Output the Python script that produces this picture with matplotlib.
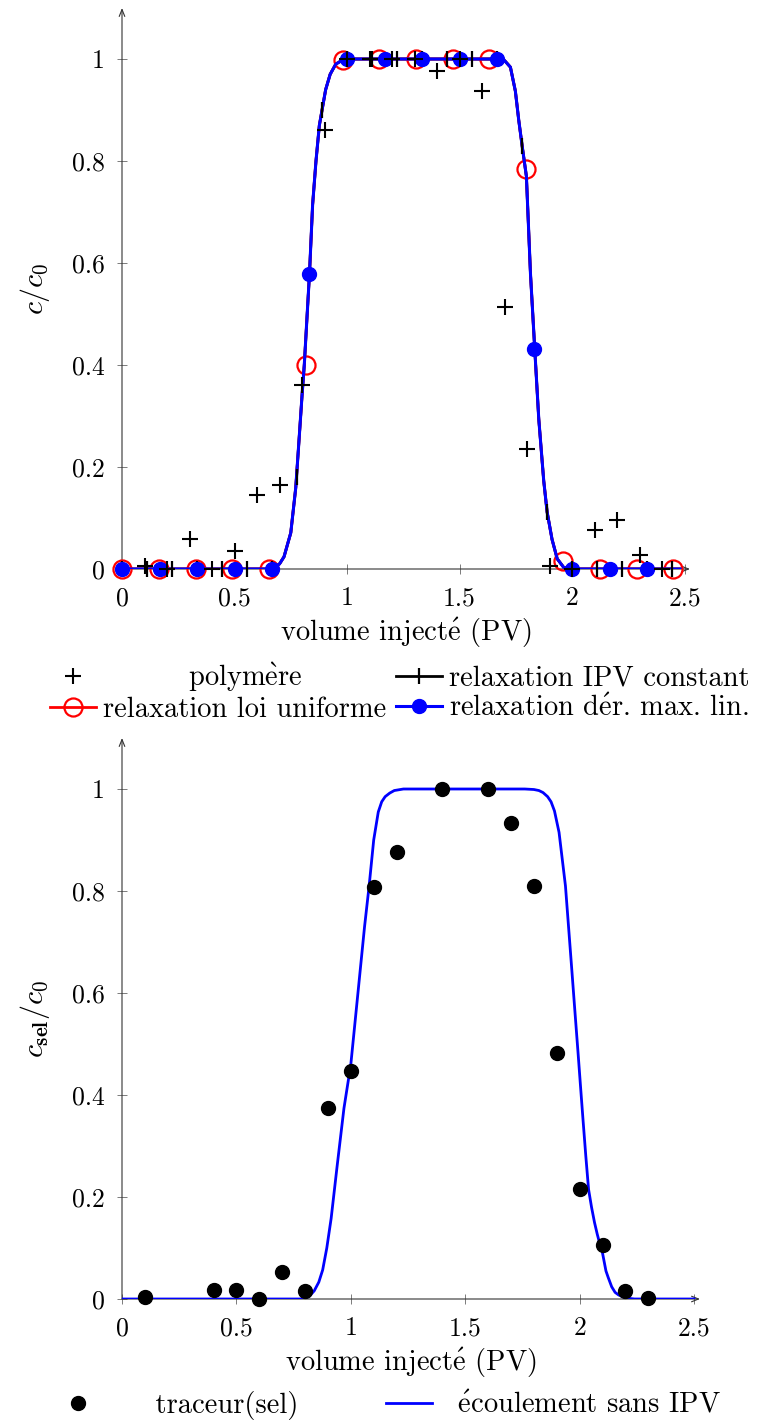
import matplotlib
matplotlib.use("Agg")
import matplotlib.pyplot as plt
from matplotlib.lines import Line2D

plt.rcParams['font.family'] = ['cmr10', 'DejaVu Serif']
plt.rcParams['mathtext.fontset'] = 'cm'
plt.rcParams['axes.formatter.use_mathtext'] = True

# ---------------- top panel data ----------------
poly_x = [0.1, 0.2, 0.3, 0.4, 0.5, 0.6, 0.7, 0.8, 0.9, 1.0, 1.1, 1.2, 1.3, 1.4, 1.5, 1.6,
          1.7, 1.8, 1.9, 2.0, 2.1, 2.2, 2.3, 2.4]
poly_y = [0.005, 0.0, 0.058, 0.0, 0.035, 0.145, 0.165, 0.36, 0.86, 1.0, 1.0, 1.0, 1.0, 0.977,
          1.0, 0.937, 0.514, 0.235, 0.005, 0.0, 0.076, 0.096, 0.027, 0.0]

model_x = [0, 0.667, 0.70, 0.72, 0.75, 0.772, 0.787, 0.80, 0.81, 0.833, 0.847, 0.862, 0.877,
           0.889, 0.905, 0.925, 0.95, 0.98, 1.0, 1.667, 1.70, 1.726, 1.748, 1.763, 1.778,
           1.797, 1.815, 1.834, 1.852, 1.874, 1.889, 1.911, 1.934, 1.963, 2.0, 2.48]
model_y = [0, 0, 0.01, 0.024, 0.071, 0.159, 0.255, 0.34, 0.40, 0.578, 0.714, 0.80, 0.87,
           0.90, 0.94, 0.97, 0.99, 0.998, 1.0, 1.0, 0.997, 0.984, 0.937, 0.88, 0.83,
           0.77, 0.58, 0.432, 0.294, 0.173, 0.112, 0.058, 0.02, 0.003, 0.0, 0.0]

ipv_x = [0, 0.111, 0.222, 0.333, 0.444, 0.556, 0.667, 0.778, 0.889, 1.0, 1.111, 1.222,
         1.333, 1.444, 1.556, 1.667, 1.778, 1.889, 2.0, 2.111, 2.222, 2.333, 2.444]
ipv_y = [0, 0, 0, 0, 0, 0, 0, 0.18, 0.90, 1, 1, 1, 1, 1, 1, 1, 0.83, 0.112, 0, 0, 0, 0, 0]

unif_x = [0, 0.163, 0.327, 0.49, 0.653, 0.817, 0.98, 1.143, 1.307, 1.47, 1.633, 1.797,
          1.96, 2.123, 2.287, 2.45]
unif_y = [0, 0, 0, 0, 0, 0.40, 0.998, 1, 1, 1, 1, 0.785, 0.015, 0, 0, 0]

lin_x = [0, 0.167, 0.333, 0.5, 0.667, 0.833, 1.0, 1.167, 1.333, 1.5, 1.667, 1.833, 2.0,
         2.167, 2.333]
lin_y = [0, 0, 0, 0, 0, 0.578, 1, 1, 1, 1, 1, 0.432, 0, 0, 0]

# ---------------- bottom panel data ----------------
sel_x = [0.1, 0.4, 0.5, 0.6, 0.7, 0.8, 0.9, 1.0, 1.1, 1.2, 1.4, 1.6, 1.7, 1.8, 1.9, 2.0,
         2.1, 2.2, 2.3]
sel_y = [0.003, 0.017, 0.017, 0.0, 0.053, 0.016, 0.375, 0.447, 0.808, 0.877, 1.0, 1.0,
         0.933, 0.81, 0.482, 0.215, 0.106, 0.015, 0.002]

flow_x = [0, 0.78, 0.80, 0.82, 0.84, 0.86, 0.877, 0.895, 0.914, 0.94, 0.97, 1.0, 1.02, 1.04,
          1.06, 1.08, 1.10, 1.12, 1.135, 1.15, 1.17, 1.19, 1.23, 1.76, 1.80, 1.822, 1.84,
          1.86, 1.875, 1.89, 1.91, 1.938, 1.965, 1.98, 1.993, 2.005, 2.015, 2.027, 2.039,
          2.052, 2.065, 2.077, 2.09, 2.10, 2.115, 2.125, 2.14, 2.155, 2.17, 2.2, 2.24, 2.5]
flow_y = [0, 0, 0.001, 0.006, 0.016, 0.033, 0.057, 0.10, 0.158, 0.26, 0.374, 0.46, 0.55,
          0.64, 0.73, 0.81, 0.90, 0.955, 0.975, 0.985, 0.992, 0.997, 1.0, 1.0, 0.999,
          0.997, 0.993, 0.985, 0.975, 0.957, 0.915, 0.81, 0.65, 0.56, 0.483, 0.41, 0.35,
          0.28, 0.215, 0.18, 0.15, 0.127, 0.105, 0.09, 0.055, 0.042, 0.024, 0.013, 0.008,
          0.002, 0.0, 0.0]

xticks = [0, 0.5, 1, 1.5, 2, 2.5]
xticklabels = ['0', '0.5', '1', '1.5', '2', '2.5']
yticks = [0, 0.2, 0.4, 0.6, 0.8, 1]
yticklabels = ['0', '0.2', '0.4', '0.6', '0.8', '1']

TFS = 18.5   # tick labels
LFS = 20.5   # axis labels / legend
W, H = 757, 1426
fig = plt.figure(figsize=(W / 100, H / 100), dpi=100)

ax1 = fig.add_axes([122 / W, 1 - 569 / H, (690 - 122) / W, (569 - 8) / H])
ax2 = fig.add_axes([122 / W, 1 - 1299 / H, (700 - 122) / W, (1299 - 738) / H])

XLABEL = r'volume inject$\acute{\mathrm{e}}$ (PV)'


def style(ax, xmax):
    ax.set_xlim(0, xmax)
    ax.set_ylim(0, 1.1)
    for s in ax.spines.values():
        s.set_visible(False)
    for end in [(1, 0), (0, 1)]:
        ax.annotate('', xy=end, xytext=(0, 0), xycoords='axes fraction',
                    arrowprops=dict(arrowstyle='->,head_length=0.5,head_width=0.2',
                                    lw=0.8, color='#333333', shrinkA=0, shrinkB=0))
    ax.set_xticks(xticks)
    ax.set_xticklabels(xticklabels)
    ax.set_yticks(yticks)
    ax.set_yticklabels(yticklabels)
    ax.tick_params(direction='inout', length=7, width=0.6, color='#666666',
                   labelsize=TFS)
    ax.tick_params(axis='x', pad=9)
    ax.tick_params(axis='y', pad=9)
    ax.set_xlabel(XLABEL, fontsize=LFS, labelpad=4)


style(ax1, 2.524)
style(ax2, 2.526)

# top panel
ax1.plot(model_x, model_y, color='black', lw=2.0, zorder=2)
ax1.plot(model_x, model_y, color='red', lw=2.0, zorder=3)
ax1.plot(unif_x, unif_y, ls='none', marker='o', ms=13, mfc='none', mec='red', mew=1.6,
         zorder=3, clip_on=False)
ax1.plot(model_x, model_y, color='blue', lw=2.2, zorder=4)
ax1.plot(ipv_x, ipv_y, ls='none', marker='|', ms=12, mew=1.6, color='black', zorder=4.5,
         clip_on=False)
ax1.plot(lin_x, lin_y, ls='none', marker='o', ms=10, mfc='blue', mec='blue', zorder=5,
         clip_on=False)
ax1.plot(poly_x, poly_y, ls='none', marker='+', ms=12, mew=1.5, color='black', zorder=6,
         clip_on=False)
ax1.set_ylabel('$c/c_0$', fontsize=LFS + 1, labelpad=14)

h_poly = Line2D([], [], ls='none', marker='+', ms=12, mew=1.5, color='black')
h_ipv = Line2D([], [], color='black', lw=2.0, marker='|', ms=12, mew=1.6)
h_unif = Line2D([], [], color='red', lw=2.0, marker='o', ms=13, mfc='none', mec='red', mew=1.6)
h_lin = Line2D([], [], color='blue', lw=2.2, marker='o', ms=10)
fig.legend([h_poly, h_unif, h_ipv, h_lin],
           ['         polym$\\grave{\\mathrm{e}}$re', 'relaxation loi uniforme',
            'relaxation IPV constant', 'relaxation d$\\acute{\\mathrm{e}}$r. max. lin.'],
           ncol=2, loc='center', bbox_to_anchor=(400 / W, 1 - 692 / H), frameon=False,
           fontsize=LFS, handlelength=1.6, handletextpad=0.25, columnspacing=0.35,
           labelspacing=0.1, borderpad=0)

# bottom panel
ax2.plot(flow_x, flow_y, color='blue', lw=2.0, zorder=3)
ax2.plot(sel_x, sel_y, ls='none', marker='o', ms=10, color='black', zorder=4, clip_on=False)
ax2.set_ylabel(r'$c_{\mathbf{sel}}/c_0$', fontsize=LFS + 1, labelpad=14)

h_sel = Line2D([], [], ls='none', marker='o', ms=10, color='black')
h_flow = Line2D([], [], color='blue', lw=2.0)
fig.legend([h_sel, h_flow], ['     traceur(sel)', '  $\\acute{\\mathrm{e}}$coulement sans IPV'],
           ncol=2, loc='center', bbox_to_anchor=(388 / W, 1 - 1405 / H), frameon=False,
           fontsize=LFS, handlelength=1.6, handletextpad=0.25, columnspacing=3.1,
           borderpad=0)

fig.savefig('out.png', dpi=100)
